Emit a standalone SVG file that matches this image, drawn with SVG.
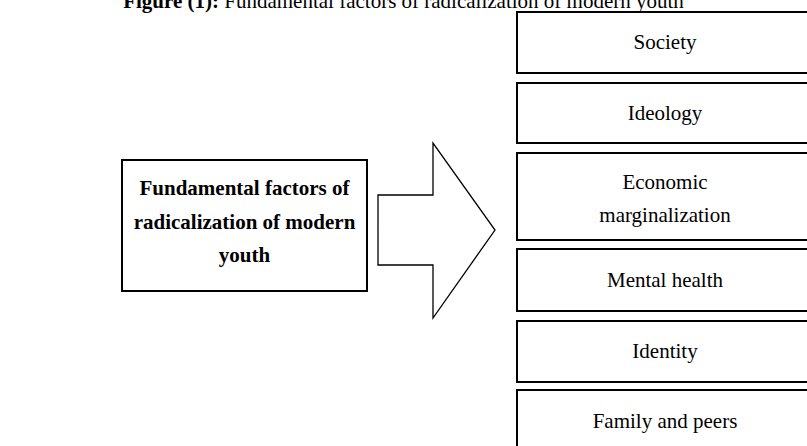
<svg xmlns="http://www.w3.org/2000/svg" width="807" height="446" viewBox="0 0 807 446">
<style>
  .box { fill: #fff; stroke: #000; stroke-width: 2; }
  .t { font-family: "Liberation Serif", "Times New Roman", serif; font-size: 21px; fill: #000; text-anchor: middle; }
  .b { font-weight: bold; }
  .arrow { fill: #fff; stroke: #000; stroke-width: 1.3; stroke-linejoin: miter; }
</style>
<rect width="807" height="446" fill="#fff"/>
<text class="t" x="403.5" y="8"><tspan font-weight="bold">Figure (1):</tspan> Fundamental factors of radicalization of modern youth</text>

<g id="main">
  <rect class="box" x="122" y="160" width="245" height="131"/>
  <text class="t b" x="244.5" y="195">Fundamental factors of</text>
  <text class="t b" x="244.5" y="229">radicalization of modern</text>
  <text class="t b" x="244.5" y="262">youth</text>
</g>

<g id="connectors">
  <polygon class="arrow" points="378,195 433,195 433,143 495,230 433,318 433,265 378,265"/>
</g>

<g id="society">
  <rect class="box" x="517" y="12" width="300" height="61"/>
  <text class="t" x="665" y="49">Society</text>
</g>
<g id="ideology">
  <rect class="box" x="517" y="83" width="300" height="60"/>
  <text class="t" x="665" y="120">Ideology</text>
</g>
<g id="economic">
  <rect class="box" x="517" y="153" width="300" height="87"/>
  <text class="t" x="665" y="189">Economic</text>
  <text class="t" x="665" y="222">marginalization</text>
</g>
<g id="mental">
  <rect class="box" x="517" y="249" width="300" height="62"/>
  <text class="t" x="665" y="287">Mental health</text>
</g>
<g id="identity">
  <rect class="box" x="517" y="321" width="300" height="61"/>
  <text class="t" x="665" y="358">Identity</text>
</g>
<g id="family">
  <rect class="box" x="517" y="390" width="300" height="62"/>
  <text class="t" x="665" y="428">Family and peers</text>
</g>
</svg>
